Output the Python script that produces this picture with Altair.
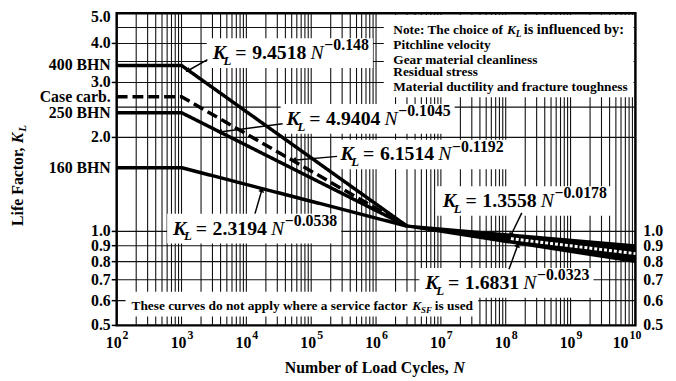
import math
import altair as alt
import pandas as pd

# ------------------------------------------------------------------ data
grades = ["400 BHN", "Case carb.", "250 BHN", "160 BHN"]
kl_low_cycle = [3.40, 2.70, 2.40, 1.60]       # K_L for N <= 10^3
curve_n = [1e2, 1e3, 3e6]                      # start, break, knee
kl_knee = 1.04

band_n = [3e6, 1e10]
band_upper = [1.04, 0.90]                      # 1.3558 N^-0.0178
band_lower = [1.04, 0.80]                      # 1.6831 N^-0.0323
pattern_n = [1.2e8, 1e10]
pattern_kl = [0.948, 0.849]

eq_coef = ["9.4518", "4.9404", "6.1514", "2.3194", "1.3558", "1.6831"]
eq_expo = ["\u22120.148", "\u22120.1045", "\u22120.1192", "\u22120.0538", "\u22120.0178", "\u22120.0323"]
eq_log_n = [3.48, 4.62, 5.45, 2.87, 7.03, 6.76]
eq_kl = [3.563, 2.194, 1.688, 0.977, 1.198, 0.6546]

arrow_tail_log_n = [3.40, 4.56, 5.40, 4.133, 8.248, 8.05]
arrow_tail_kl = [3.549, 2.211, 1.739, 1.14, 1.147, 0.757]
arrow_head_log_n = [3.097, 3.585, 4.728, 4.24, 8.08, 8.187]
arrow_head_kl = [3.27, 2.08, 1.69, 1.36, 0.972, 0.905]

note_title = ["Note: The choice of", "K", "L", "is influenced by:"]
note_lines = ["Pitchline velocity", "Gear material cleanliness",
              "Residual stress", "Material ductility and fracture toughness"]
note_log_n = 6.266
note_kl = [4.29, 3.847, 3.448, 3.137, 2.812]
note_box = dict(n1=10**6.12, n2=10**9.97, k1=2.69, k2=4.93)

foot_text = ["These curves do not apply where a service factor", "K", "SF", "is used"]
foot_log_n = 2.229
foot_kl = 0.562
foot_box = dict(n1=10**2.137, n2=10**7.577, k1=0.534, k2=0.641)

left_ticks = [4.0, 3.0, 2.0, 1.0, 0.9, 0.8, 0.7, 0.6, 0.5]
top_tick = [5.0]
right_ticks = [1.0, 0.9, 0.8, 0.7, 0.6, 0.5]
x_decades = list(range(2, 10))
x_last_decade = [10]
h_grid = [0.6, 0.7, 0.8, 0.9, 1.0, 2.0, 2.5, 3.0, 3.5, 4.0, 4.5]

# ------------------------------------------------------------------ setup
W, H = 525, 316
FONT = "Liberation Serif"
PX_X = W / 8.0
PX_Y = H / 1.0

xs = alt.Scale(type="log", domain=[1e2, 1e10], nice=False)
ys = alt.Scale(type="log", domain=[0.5, 5.0], nice=False)


def X(f="n"):
    return alt.X(f"{f}:Q", scale=xs, axis=None)


def Y(f="kl"):
    return alt.Y(f"{f}:Q", scale=ys, axis=None)


layers = []

# grid
vgrid = pd.DataFrame({"n": [m * 10 ** k for k in range(2, 10) for m in range(1, 10)][1:]})
layers.append(alt.Chart(vgrid).mark_rule(color="#111", strokeWidth=1.1).encode(x=X()))
hgrid = pd.DataFrame({"kl": h_grid})
layers.append(alt.Chart(hgrid).mark_rule(color="#111", strokeWidth=1.1).encode(y=Y()))

# left ticks
lt = pd.DataFrame({"kl": left_ticks})
layers.append(alt.Chart(lt).mark_rule(color="black", strokeWidth=1.5).encode(
    y=Y(), x=alt.value(-5), x2=alt.value(0)))

# white annotation boxes
exp_w = [16 * (0.57 + 0.5 + 0.25 + 0.5 * (len(e) - 3)) for e in eq_expo]
box_rows = []
for ln, k, w in zip(eq_log_n, eq_kl, exp_w):
    box_rows.append(dict(n1=10 ** (ln - 6 / PX_X), n2=10 ** (ln + (112 + w + 5) / PX_X),
                         k1=k / 10 ** (9 / PX_Y), k2=k * 10 ** (21 / PX_Y)))
box_rows.append(note_box)
box_rows.append(foot_box)
boxes = pd.DataFrame(box_rows)
layers.append(alt.Chart(boxes).mark_rect(fill="white").encode(
    x=X("n1"), x2="n2", y=Y("k1"), y2="k2"))

# curves
rows = []
for g, k in zip(grades, kl_low_cycle):
    for i, (n, v) in enumerate(zip(curve_n, [k, k, kl_knee])):
        rows.append(dict(grade=g, n=n, kl=v, o=i))
curves = pd.DataFrame(rows)
layers.append(alt.Chart(curves).mark_line(color="black", strokeWidth=3.5).encode(
    x=X(), y=Y(), order="o:Q",
    detail="grade:N",
    strokeDash=alt.StrokeDash("grade:N", legend=None,
                              scale=alt.Scale(domain=grades,
                                              range=[[1, 0], [11, 5], [1, 0], [1, 0]]))))

# band
band = pd.DataFrame({"n": band_n, "up": band_upper, "lo": band_lower})
layers.append(alt.Chart(band).mark_area(color="black").encode(x=X(), y=Y("up"), y2="lo"))
layers.append(alt.Chart(band).mark_line(color="black", strokeWidth=3).encode(x=X(), y=Y("up")))
layers.append(alt.Chart(band).mark_line(color="black", strokeWidth=3).encode(x=X(), y=Y("lo")))
pat = pd.DataFrame({"n": pattern_n, "kl": pattern_kl})
layers.append(alt.Chart(pat).mark_line(color="white", strokeWidth=3, strokeDash=[3, 2]).encode(
    x=X(), y=Y()))

# equations
eq = pd.DataFrame({"n": [10 ** v for v in eq_log_n], "kl": eq_kl,
                   "coef": eq_coef, "expo": eq_expo})
base_t = dict(font=FONT, fontWeight="bold", color="black", align="left", baseline="alphabetic")
layers.append(alt.Chart(eq).mark_text(text="K", fontSize=20, fontStyle="italic", **base_t).encode(x=X(), y=Y()))
layers.append(alt.Chart(eq).mark_text(text="L", fontSize=13, fontStyle="italic", dx=11, dy=6, **base_t).encode(x=X(), y=Y()))
layers.append(alt.Chart(eq).mark_text(text="=", fontSize=20, dx=23, **base_t).encode(x=X(), y=Y()))
layers.append(alt.Chart(eq).mark_text(fontSize=20, dx=40, **base_t).encode(x=X(), y=Y(), text="coef:N"))
layers.append(alt.Chart(eq).mark_text(text="N", fontSize=20, fontStyle="italic", fontWeight="normal",
                                      font=FONT, align="left", baseline="alphabetic", dx=99).encode(x=X(), y=Y()))
layers.append(alt.Chart(eq).mark_text(fontSize=16, dx=113, dy=-9, **base_t).encode(x=X(), y=Y(), text="expo:N"))

# arrows
arr = pd.DataFrame({"n": [10 ** v for v in arrow_tail_log_n], "kl": arrow_tail_kl,
                    "n2": [10 ** v for v in arrow_head_log_n], "kl2": arrow_head_kl})
angs = []
for a, b, c, d in zip(arrow_tail_log_n, arrow_tail_kl, arrow_head_log_n, arrow_head_kl):
    dxp = (c - a) * PX_X
    dyp = -(math.log10(d) - math.log10(b)) * PX_Y
    angs.append(math.degrees(math.atan2(dxp, -dyp)) % 360)
arr["ang"] = angs
layers.append(alt.Chart(arr).mark_rule(color="black", strokeWidth=1.5).encode(
    x=X(), x2="n2", y=Y(), y2="kl2"))
layers.append(alt.Chart(arr).mark_point(shape="triangle-up", filled=True, size=35, color="black", opacity=1).encode(
    x=X("n2"), y=Y("kl2"), angle=alt.Angle("ang:Q", scale=None)))

# note box text
nt_df = pd.DataFrame({"n": [10 ** note_log_n], "kl": [note_kl[0]]})
nb = dict(font=FONT, fontWeight="bold", color="black", align="left", baseline="alphabetic")
layers.append(alt.Chart(nt_df).mark_text(text=note_title[0], fontSize=13.5, **nb).encode(x=X(), y=Y()))
layers.append(alt.Chart(nt_df).mark_text(text=note_title[1], fontSize=13.5, fontStyle="italic", dx=115, **nb).encode(x=X(), y=Y()))
layers.append(alt.Chart(nt_df).mark_text(text=note_title[2], fontSize=9.5, fontStyle="italic", dx=124, dy=3, **nb).encode(x=X(), y=Y()))
layers.append(alt.Chart(nt_df).mark_text(text=note_title[3], fontSize=14.5, dx=132, **nb).encode(x=X(), y=Y()))
nl = pd.DataFrame({"n": [10 ** note_log_n] * len(note_lines), "kl": note_kl[1:], "t": note_lines})
layers.append(alt.Chart(nl).mark_text(fontSize=13.5, **nb).encode(x=X(), y=Y(), text="t:N"))

# footnote
ft = pd.DataFrame({"n": [10 ** foot_log_n], "kl": [foot_kl]})
layers.append(alt.Chart(ft).mark_text(text=foot_text[0], fontSize=13.5, **nb).encode(x=X(), y=Y()))
layers.append(alt.Chart(ft).mark_text(text=foot_text[1], fontSize=13.5, fontStyle="italic", dx=284, **nb).encode(x=X(), y=Y()))
layers.append(alt.Chart(ft).mark_text(text=foot_text[2], fontSize=9, fontStyle="italic", dx=293, dy=3, **nb).encode(x=X(), y=Y()))
layers.append(alt.Chart(ft).mark_text(text=foot_text[3], fontSize=13.5, dx=307, **nb).encode(x=X(), y=Y()))

# tick labels
tl = dict(font=FONT, fontWeight="bold", color="black", fontSize=16, baseline="middle")
ldf = pd.DataFrame({"n": [1e2] * (len(left_ticks) + len(grades)),
                    "kl": left_ticks + kl_low_cycle,
                    "t": [f"{v:.1f}" for v in left_ticks] + grades})
layers.append(alt.Chart(ldf).mark_text(align="right", dx=-6, **tl).encode(x=X(), y=Y(), text="t:N"))
tdf = pd.DataFrame({"n": [1e2], "kl": top_tick, "t": [f"{v:.1f}" for v in top_tick]})
layers.append(alt.Chart(tdf).mark_text(align="right", dx=-6, dy=4, **tl).encode(x=X(), y=Y(), text="t:N"))
rdf = pd.DataFrame({"n": [1e10] * len(right_ticks), "kl": right_ticks,
                    "t": [f"{v:.1f}" for v in right_ticks]})
layers.append(alt.Chart(rdf).mark_text(align="left", dx=8, dy=0, **tl).encode(x=X(), y=Y(), text="t:N"))

ex = dict(font=FONT, fontWeight="bold", color="black", fontSize=12, baseline="middle", align="left")
xdf = pd.DataFrame({"n": [10.0 ** k for k in x_decades], "kl": [0.5] * len(x_decades),
                    "e": [str(k) for k in x_decades]})
layers.append(alt.Chart(xdf).mark_text(text="10", align="right", dx=5, dy=18, **tl).encode(x=X(), y=Y()))
layers.append(alt.Chart(xdf).mark_text(dx=6, dy=10, **ex).encode(x=X(), y=Y(), text="e:N"))
xdf2 = pd.DataFrame({"n": [10.0 ** k for k in x_last_decade], "kl": [0.5] * len(x_last_decade),
                     "e": [str(k) for k in x_last_decade]})
layers.append(alt.Chart(xdf2).mark_text(text="10", align="right", dx=-7, dy=18, **tl).encode(x=X(), y=Y()))
layers.append(alt.Chart(xdf2).mark_text(dx=-6, dy=10, **ex).encode(x=X(), y=Y(), text="e:N"))

# axis titles
one = pd.DataFrame({"a": [0]})
tt = dict(font=FONT, fontWeight="bold", color="black", fontSize=16, baseline="middle")
layers.append(alt.Chart(one).mark_text(text="Life Factor,", angle=270, align="right", **tt).encode(
    x=alt.value(-100), y=alt.value(136)))
layers.append(alt.Chart(one).mark_text(text="K", angle=270, align="right", fontStyle="italic", **tt).encode(
    x=alt.value(-100), y=alt.value(121)))
layers.append(alt.Chart(one).mark_text(text="L", angle=270, align="left", fontStyle="italic",
                                       font=FONT, fontWeight="bold", color="black", fontSize=11,
                                       baseline="middle").encode(
    x=alt.value(-95), y=alt.value(120)))
layers.append(alt.Chart(one).mark_text(text="Number of Load Cycles,", align="right", **tt).encode(
    x=alt.value(336), y=alt.value(359)))
layers.append(alt.Chart(one).mark_text(text="N", align="left", fontStyle="italic", **tt).encode(
    x=alt.value(341), y=alt.value(359)))

chart = alt.layer(*layers).properties(
    width=W, height=H,
    autosize=alt.AutoSizeParams(type="none"),
    padding={"left": 110, "top": 3, "right": 33, "bottom": 50},
    background="white",
).configure_view(stroke="black", strokeWidth=2.5)

chart.save("out.html", embed_options={"renderer": "svg", "actions": False})
